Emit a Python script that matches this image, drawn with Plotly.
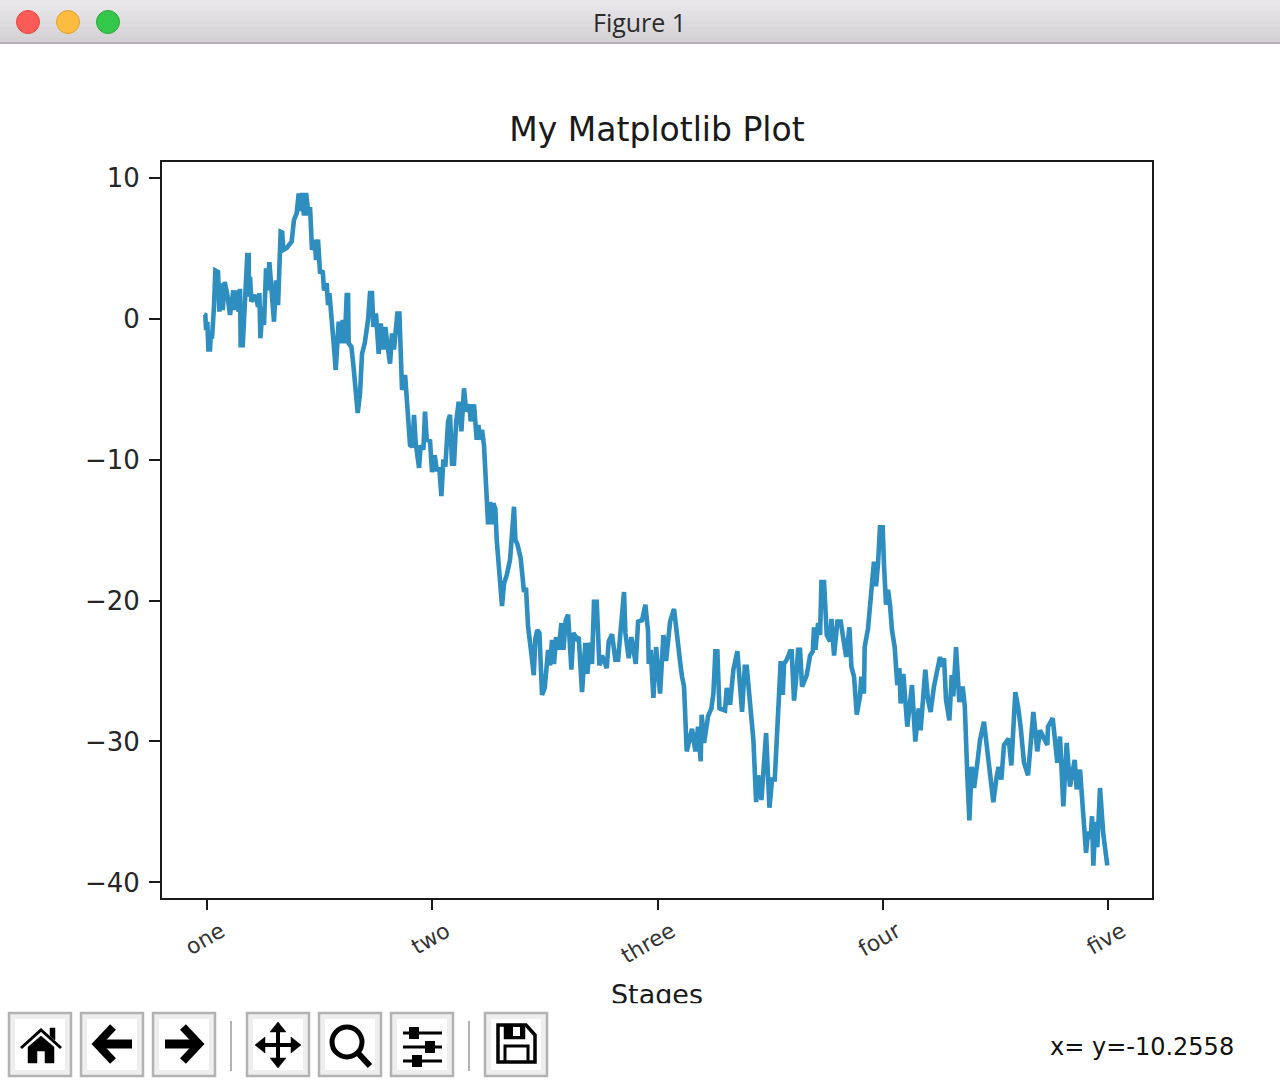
import plotly.graph_objects as go

stage_ticks = [0, 250, 500, 750, 1000]
stage_labels = ["one", "two", "three", "four", "five"]
y_ticks = [10, 0, -10, -20, -30, -40]

steps = [-3.4,-1.9,-1.1,0.3,1.5,3.3,4,5.5,7.7,9.2,12.2,13.7,15.1,17.4,19.6,22.5,25.5,27.7,29.2,30.7,32.2,35.1,36.6,37.3,39.6,41.4,44.7,46.2,46.6,47.7,49.2,53.6,56.6,58.1,59.2,61.8,63.2,65.5,66.9,69.2,71.4,74.3,76.6,78.8,81.7,83.4,84.7,88.4,93.9,96.5,99.5,101.7,103.9,105.4,107.6,109.9,112.8,114.3,116.5,119.5,121,123.2,125.4,128.4,129.8,132.8,134.3,135.8,140.2,142.8,146.1,148.3,150.6,152.8,155,156.5,157.2,160.2,162.4,164.6,167.2,169.8,172,175,178.7,180.9,183.1,184.6,187.5,190.5,192.7,195.7,197.9,200.9,203.1,205.3,207.5,211.2,213.5,216.4,219.8,222.3,225.3,227.9,229.7,231.6,235.3,237.1,240.1,241.9,243.8,247.5,249.7,252.7,254.9,257.9,260.1,262.3,264.5,267.5,269.7,271.9,274.1,276.4,279.3,282.3,285.2,287.5,291.2,292.6,296.3,299.3,301.2,303,305.2,307.4,309.7,311.9,314.1,315.6,317.8,320,321.5,325.2,327.4,329.6,332.6,336.3,338.5,340.7,342.2,344.4,348.1,351.8,354,356.3,360.4,362.6,364.4,366.6,368.9,371.8,374.8,378.5,380.7,382.9,385.1,387.4,390.3,393.3,395.5,398.1,400.7,404.4,406.6,410.3,412.5,416.2,419.9,422.1,425.1,427.3,429.5,432.5,435.5,438.4,443.6,445.8,449.5,453.2,456.2,458.4,462.8,464.3,468,471,475.8,478.4,482.8,486.5,489.5,490.2,492.4,495.4,498.4,502.8,506.5,509.5,513.9,518.3,521.3,525.7,527.2,529.4,532.4,535.4,538.3,542,545,547.9,549,551.6,556.1,559.8,562,564.2,566.4,568.7,574.9,576.8,580.5,584.2,588.6,593.8,596.8,599,602,606.4,609.4,611.6,615.3,618.2,620.5,624.2,627.1,630.1,632.3,634.5,636.7,639,640.4,643.4,647.1,648.9,651.5,653.8,656,658.2,660.4,665.6,669.3,672.3,673.7,675.2,678.2,680.4,681.9,684.8,687.8,691.5,693,695.9,699.6,703.3,709.3,713,715.2,718.1,721.1,724.7,726.2,729.1,729.9,733.6,736.5,740.2,742.5,744.7,746.9,749.9,751.3,753.6,755.8,758,760.2,763.2,766.1,768.4,769.8,772.8,777.2,782.4,786.1,789.8,792,797.2,800.2,803.1,806.8,813.5,815.7,818,820.2,823.9,826.5,828.3,831.3,835,838.7,841,843.9,846.1,848.7,851.3,855,857.9,862.3,865.3,872.7,876.4,878.6,881.6,884.5,889.7,892.7,897.1,900.1,903,906.7,911.2,913.4,917.1,921.5,924.5,932.6,933.4,938.6,943.7,946.7,950.4,954.1,957.8,963,965.2,968.9,971.9,975.6,977.8,980.7,982.2,983.7,985.9,988.1,991.1,994.8,999.2]
walk = [0.29,0.25,-0.82,-0.23,-2.2,-2.2,-1.3,-1.4,0.84,3.4,3.3,0.48,2.5,0.6,2.6,1.7,0.25,1.3,2.0,0.6,2.0,0.48,2.1,-1.9,-1.9,0.36,4.5,4.5,1.55,2.96,1.2,1.66,0.84,1.8,-1.4,0.84,-0.46,3.55,2.0,4.0,1.66,-0.23,2.7,0.95,6.15,6.1,4.86,5.0,5.45,7.0,7.45,8.87,7.6,8.9,7.3,8.9,7.3,7.9,4.86,5.57,4.15,5.6,3.2,3.4,2.0,2.5,0.95,1.8,-1.5,-3.65,-0.23,-1.76,-0.1,-1.76,1.66,1.66,-1.76,-2.0,-3.3,-5.3,-6.7,-5.3,-2.5,-1.76,-0.1,1.8,1.8,-0.6,0.36,-2.5,-0.35,-2.2,-0.6,-2.2,-3.2,-1.05,-2.2,0.36,0.36,-5.07,-4.0,-6.25,-8.97,-9.09,-6.84,-8.85,-10.6,-9,-9.3,-6.6,-8.6,-8.7,-10.9,-9.7,-10.7,-10.7,-12.6,-10.0,-10.5,-7.3,-6.84,-10.3,-10.3,-7.4,-5.9,-8.0,-4.95,-6.6,-6.1,-7.3,-6.1,-8.6,-7.55,-8.6,-7.9,-9,-11.45,-14.6,-13,-14.6,-13.1,-13.5,-15.7,-19,-20.4,-18.8,-18.2,-17.1,-15,-13.35,-15.7,-16,-17,-19.4,-19.1,-21.85,-24,-25.3,-22.7,-22.1,-22.3,-26.7,-26.2,-23.5,-24.6,-22.8,-24.5,-22.6,-23.5,-21.6,-23.5,-21.4,-21,-24.9,-22.3,-22.7,-22.6,-26.5,-23,-25.2,-23,-24.5,-20.1,-20.1,-24.6,-23.9,-24.8,-22.9,-22.4,-24.2,-24.2,-22.3,-19.4,-22.3,-24.1,-22.6,-24.5,-21.5,-21.4,-20.3,-22.2,-24.5,-23.5,-26.9,-23.3,-26.6,-22.45,-24.3,-21.5,-20.6,-22.6,-24.7,-25.4,-26.1,-30.7,-29.7,-29.1,-30.7,-28.95,-31.4,-28.1,-30.1,-28.2,-27.65,-26.6,-23.6,-23.6,-27.65,-27.8,-26.2,-27.4,-24.9,-23.6,-27.9,-24.7,-24.7,-27.2,-29.9,-34.3,-32.4,-34.15,-31.1,-29.4,-34.7,-32.7,-32.7,-29.9,-26.9,-24.3,-26.7,-24.5,-24.2,-23.6,-23.6,-27.1,-25.6,-23.5,-23.5,-26.1,-25.3,-23.9,-23.6,-21.9,-23.5,-21.6,-22.45,-18.7,-18.7,-22.45,-22.9,-21.3,-23.9,-21.5,-21.5,-24,-21.9,-24.7,-25.4,-28.1,-26.8,-25.4,-26.6,-23.3,-22,-20.2,-17.25,-19,-17.4,-14.8,-14.8,-17.4,-20.3,-19.25,-20.3,-22.1,-23.3,-26,-24.8,-27.3,-25.2,-28.95,-26,-30,-27.65,-29.2,-24.9,-27.05,-27.9,-26.1,-24,-24.7,-24.1,-27.05,-28.5,-25.3,-26.8,-23.3,-27.2,-26.1,-27.5,-32.5,-35.6,-31.8,-33.3,-31.5,-29.9,-28.6,-30.1,-34.3,-32.5,-31.8,-32.7,-30.25,-29.8,-31.7,-26.5,-27.5,-28.95,-31.5,-32.4,-30.6,-27.9,-30.7,-29.2,-30.25,-28.95,-28.35,-31.5,-29.65,-34.6,-30.1,-33.2,-31.3,-33.4,-32,-35,-37.9,-36.4,-36.9,-35.3,-38.8,-35.7,-37.5,-33.3,-36.6,-38.8]
n = min(len(steps), len(walk))
steps, walk = steps[:n], walk[:n]

L, R, T, B = 162, 1152, 162, 898


def px(x):
    return (x - L) / (R - L)


def py(y):
    return (B - y) / (B - T)


def path(d):
    out, tok = [], d.split()
    for t in tok:
        if t[0] in "MLZ":
            c = t[0]
            rest = t[1:]
            if rest:
                a, b = rest.split(",")
                out.append(f"{c}{px(float(a)):.5f},{py(float(b)):.5f}")
            else:
                out.append(c)
    return " ".join(out)


shapes = []


def rect(x0, y0, x1, y1, fill, line=None, w=0):
    shapes.append(dict(type="rect", xref="paper", yref="paper", x0=px(x0), x1=px(x1), y0=py(y0), y1=py(y1),
                       fillcolor=fill, line=dict(color=line or fill, width=w), layer="above"))


def circle(cx, cy, r, fill, line, w):
    shapes.append(dict(type="circle", xref="paper", yref="paper", x0=px(cx - r), x1=px(cx + r), y0=py(cy + r), y1=py(cy - r),
                       fillcolor=fill, line=dict(color=line, width=w), layer="above"))


def stroke(d, w, color="black"):
    shapes.append(dict(type="path", xref="paper", yref="paper", path=path(d), line=dict(color=color, width=w),
                       fillcolor="rgba(0,0,0,0)", layer="above"))


def solid(d, color="black"):
    shapes.append(dict(type="path", xref="paper", yref="paper", path=path(d), line=dict(color=color, width=0.5),
                       fillcolor=color, layer="above"))


# window title bar
bands = ["#e9e7e9", "#e6e4e6", "#e3e1e3", "#e0dee0", "#dddbdd", "#dad8da", "#d7d5d7", "#d4d2d4"]
for i, c in enumerate(bands):
    rect(0, i * 5.25, 1280, (i + 1) * 5.25 + 0.5, c)
rect(0, 42, 1280, 44, "#b4b2b4")
circle(28, 22, 11.5, "#fc5b57", "#e5483f", 1)
circle(68, 22, 11.5, "#fdbc40", "#e0a030", 1)
circle(108, 22, 11.5, "#34c84a", "#28a83c", 1)

# toolbar
for x0 in [9, 81, 153, 247, 319, 391, 485]:
    rect(x0, 1013, x0 + 62, 1076, "#eeeeee", "#b2b2b2", 2.5)
    rect(x0 + 6, 1019, x0 + 56, 1070, "#ffffff")
for x in [231, 469]:
    rect(x - 1, 1021, x + 1, 1071, "#b2b2b2")

# home
stroke("M21,1048 L41,1030 L61,1048", 3)
solid("M28,1047 L41,1036 L54,1047 L54,1063 L45,1063 L45,1051 L37,1051 L37,1063 L28,1063 Z")
solid("M50,1028 L55,1028 L55,1040 L50,1036 Z")
# back / forward
stroke("M113,1027 L97,1044 L113,1061", 8)
stroke("M97,1044 L132,1044", 9)
stroke("M183,1027 L199,1044 L183,1061", 8)
stroke("M165,1044 L199,1044", 9)
# move
stroke("M278,1027 L278,1063", 4)
stroke("M260,1045 L296,1045", 4)
solid("M278,1022 L286,1032 L270,1032 Z")
solid("M278,1068 L286,1058 L270,1058 Z")
solid("M255,1045 L265,1037 L265,1053 Z")
solid("M301,1045 L291,1037 L291,1053 Z")
# zoom
circle(347, 1042, 15, "rgba(0,0,0,0)", "black", 5)
stroke("M358,1053 L370,1066", 6)
# sliders
for yy, kx in [(1033, 414), (1047, 430), (1061, 417)]:
    stroke(f"M403,{yy} L442,{yy}", 3)
    rect(kx - 5, yy - 6, kx + 5, yy + 6, "black")
# save
stroke("M498,1025 L526,1025 L535,1035 L535,1062 L498,1062 Z", 3.5)
solid("M504,1025 L525,1025 L525,1039 L504,1039 Z")
rect(513, 1027, 520, 1036, "white")
stroke("M505,1062 L505,1046 L528,1046 L528,1062", 3)

annotations = [
    dict(text="Figure 1", x=px(639), y=py(22), xref="paper", yref="paper", xanchor="center", yanchor="middle",
         showarrow=False, font=dict(family="Open Sans", size=25, color="#2b2b2b")),
    dict(text="x= y=-10.2558", x=px(1236), y=py(1047), xref="paper", yref="paper", xanchor="right", yanchor="middle",
         showarrow=False, font=dict(family="DejaVu Sans", size=24, color="#111111")),
]

fig = go.Figure(go.Scatter(x=steps, y=walk, mode="lines", line=dict(color="#2e8ec0", width=4.6), hoverinfo="skip"))
fig.update_layout(
    width=1280, height=1088, autosize=False, paper_bgcolor="white", plot_bgcolor="white",
    margin=dict(l=L, r=1280 - R, t=T, b=1088 - B),
    showlegend=False,
    title=dict(text="My Matplotlib Plot", x=(657) / 1280, xanchor="center", y=1 - 129 / 1088, yanchor="middle",
               font=dict(family="DejaVu Sans", size=33, color="#1a1a1a")),
    xaxis=dict(range=[-50, 1048.8], tickvals=stage_ticks, ticktext=stage_labels, tickangle=-30, ticks="outside",
               ticklen=10, tickwidth=2, tickcolor="#1a1a1a", showgrid=False, zeroline=False, showline=True,
               linecolor="#1a1a1a", linewidth=2, mirror=True, ticklabelshift=14, ticklabelstandoff=0,
               tickfont=dict(family="DejaVu Sans", size=22, color="#333333"),
               title=dict(text="Stages", standoff=18, font=dict(family="DejaVu Sans", size=27, color="#1a1a1a"))),
    yaxis=dict(range=[-41.1, 11.1], tickvals=y_ticks, ticks="outside", ticklen=11, tickwidth=2, tickcolor="#1a1a1a",
               showgrid=False, zeroline=False, showline=True, linecolor="#1a1a1a", linewidth=2, mirror=True,
               ticklabelstandoff=4, tickfont=dict(family="DejaVu Sans", size=26, color="#262626")),
    shapes=shapes, annotations=annotations,
)
fig.write_html("out.html", config={"displayModeBar": False},
               post_script="document.body.style.margin='0';var t=document.querySelector('.xtitle');if(t){t.style.clipPath='inset(0 0 7px 0)';}")
